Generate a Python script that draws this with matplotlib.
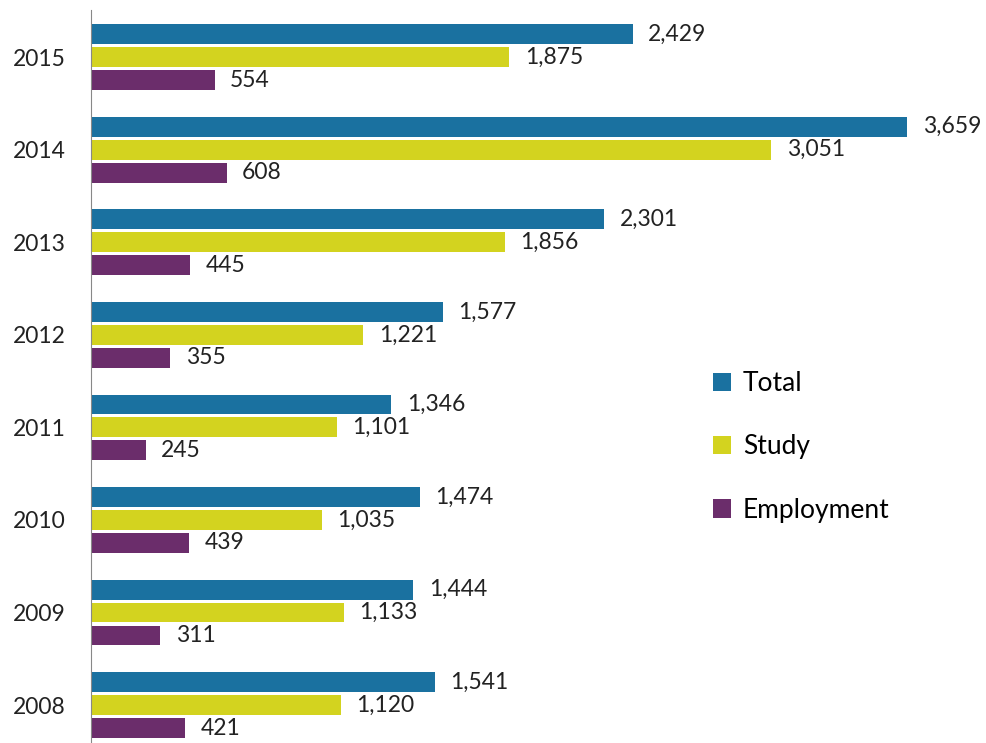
import matplotlib.pyplot as plt
import numpy as np

# data
years = ["2008", "2009", "2010", "2011", "2012", "2013", "2014", "2015"]
total = [1541, 1444, 1474, 1346, 1577, 2301, 3659, 2429]
study = [1120, 1133, 1035, 1101, 1221, 1856, 3051, 1875]
employment = [421, 311, 439, 245, 355, 445, 608, 554]

series = [("Total", total, "#1a71a0"),
          ("Study", study, "#d3d31f"),
          ("Employment", employment, "#6b2d6b")]

plt.rcParams['font.family'] = ['Lato', 'DejaVu Sans']

fig = plt.figure(figsize=(9.86, 7.43), dpi=100)
ax = fig.add_axes([91 / 986, 0.0, 892 / 986, 733 / 743])

y = np.arange(len(years))
offsets = [0.248, 0.0, -0.248]
bar_h = 0.215

for (name, vals, color), off in zip(series, offsets):
    ax.barh(y + off, vals, height=bar_h, color=color, label=name)
    for yy, v in zip(y, vals):
        ax.text(v + 70, yy + off, f"{v:,}", va="center", ha="left",
                fontsize=16.5, color="#222222")

ax.set_xlim(0, 4000)
ax.set_ylim(-0.41, 7.51)
ax.set_yticks(y)
ax.set_yticklabels(years, fontsize=16.5, color="#222222")
ax.set_xticks([])
ax.tick_params(axis="y", length=0, pad=18)
for s in ["top", "right", "bottom"]:
    ax.spines[s].set_visible(False)
ax.spines["left"].set_color("#888888")

ax.legend(loc="center left", bbox_to_anchor=(598 / 892, 0.404), frameon=False,
          fontsize=19, handlelength=0.7, handleheight=0.7,
          handletextpad=0.45, labelspacing=1.45)

plt.savefig("out.png", dpi=100)
